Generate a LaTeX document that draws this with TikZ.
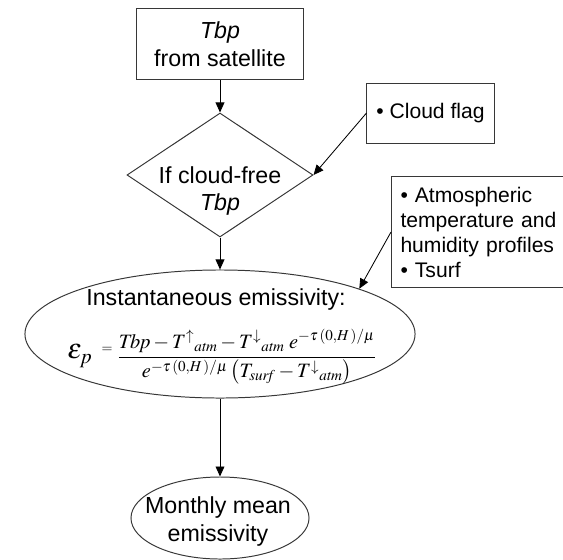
\documentclass[tikz,border=0pt]{standalone}
\usepackage{mathptmx}
\usepackage[no-math]{fontspec}
\setmainfont{Liberation Sans}
\usetikzlibrary{arrows.meta}
\usetikzlibrary{shapes.geometric}
\definecolor{myedge}{RGB}{55,55,55}
\tikzset{
	flowline/.style={draw=myedge, line width=0.7pt},
	flowbox/.style={flowline, inner sep=0pt},
	flowtext/.style={font=\fontsize{16.5}{19.9}\selectfont, align=center},
	sidetext/.style={font=\fontsize{15}{17.8}\selectfont},
	flowarrow/.style={-{Triangle[length=0.25cm, width=0.22cm]}, line width=0.6pt},
}

\begin{document}
\begin{tikzpicture}[x=0.025cm, y=-0.025cm]
	\clip (0,0) rectangle (563,559);

	\node[flowbox, flowtext, minimum width=4.15cm, minimum height=1.775cm] (sat) at (220,44) {\textit{Tbp}\\from satellite};
	\node[flowbox, diamond, minimum width=4.65cm, minimum height=3.1cm] (cloudfree) at (220,175) {};
	\node[flowtext] (cloudfreetext) at (220,191) {If cloud-free\\\textit{Tbp}};
	\node[flowbox, sidetext, minimum width=3.175cm, minimum height=1.5cm] (flag) at (430.5,113) {\textbullet\ Cloud flag};
	\node[flowbox, sidetext, anchor=north west, text width=5cm, minimum height=2.775cm, inner xsep=0.225cm, align=left] (profiles) at (391,176) {\textbullet\ Atmospheric\\temperature and\\humidity profiles\\\textbullet\ Tsurf};

	\node[flowbox, ellipse, minimum width=9.75cm, minimum height=3.2cm] (inst) at (220,334) {};
	\node[flowtext, inner sep=0pt] (insttext) at (216,299) {Instantaneous emissivity:};
	\node[inner sep=0pt, font=\fontsize{20}{20}\selectfont] (eps) at (80,356) {$\varepsilon_p$};
	\node[inner sep=0pt, font=\fontsize{10}{10}\selectfont] (equals) at (107,350) {$=$};
	\node[inner sep=0pt, font=\fontsize{14.5}{15.5}\selectfont] (frac) at (247,357) {$\displaystyle\frac{\mathit{Tbp} - T^{\uparrow}{}_{\mathit{atm}} - T^{\downarrow}{}_{\mathit{atm}}\; e^{-\tau\,(0,H\,)/\mu}}{e^{-\tau\,(0,H\,)/\mu}\left(T_{\mathit{surf}} - T^{\downarrow}{}_{\mathit{atm}}\right)}$};

	\node[flowbox, ellipse, minimum width=4.45cm, minimum height=2.05cm] (monthly) at (220,518) {};
	\node[flowtext] (monthlytext) at (218,521) {Monthly mean\\emissivity};

	\draw[flowarrow] (sat) -- (cloudfree);
	\draw[flowarrow] (flag.west) -- (cloudfree.east);
	\draw[flowarrow] (cloudfree.south) -- (inst.north);
	\draw[flowarrow] (profiles.west) -- (inst.18);
	\draw[flowarrow] (inst.south) -- (monthly.north);
\end{tikzpicture}
\end{document}
